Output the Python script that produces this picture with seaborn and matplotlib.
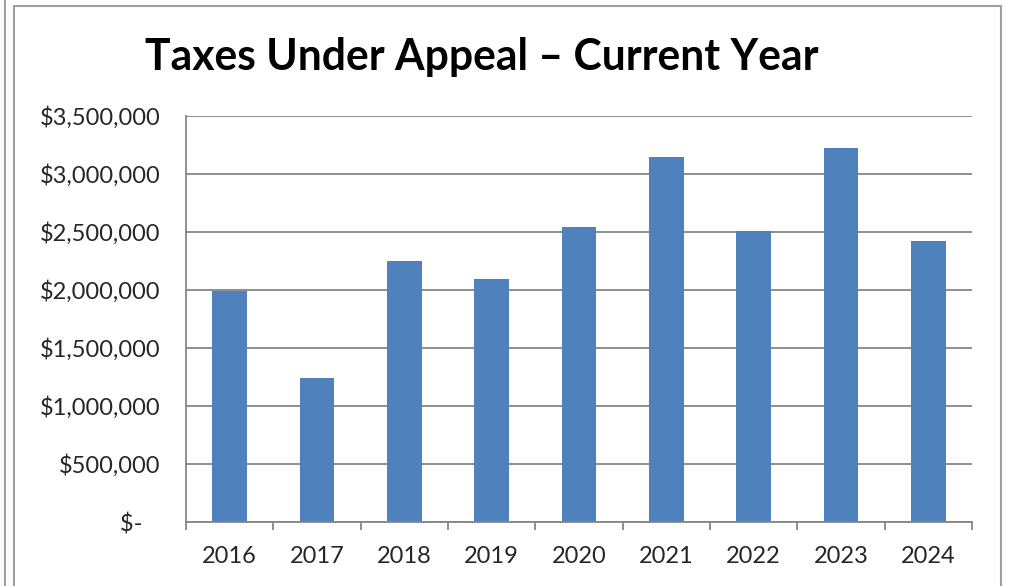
import matplotlib
matplotlib.use("Agg")
import matplotlib.pyplot as plt
import seaborn as sns
import pandas as pd
from matplotlib.lines import Line2D
from matplotlib.ticker import FixedLocator

years = ["2016", "2017", "2018", "2019", "2020", "2021", "2022", "2023", "2024"]
taxes = [1990000, 1241000, 2250000, 2095000, 2543000, 3147000, 2508000, 3224000, 2422000]
ytick_values = [0, 500000, 1000000, 1500000, 2000000, 2500000, 3000000, 3500000]
ytick_labels = ["$-   ", "$500,000", "$1,000,000", "$1,500,000", "$2,000,000",
                "$2,500,000", "$3,000,000", "$3,500,000"]
title = "Taxes Under Appeal \u2013 Current Year"

sns.set_theme(style="white")
plt.rcParams['font.family'] = ['Lato', 'DejaVu Sans']

W, H = 1009, 586
fig = plt.figure(figsize=(W / 100, H / 100), dpi=100)
ax = fig.add_axes([186 / W, 1 - 522 / H, (972 - 186) / W, (522 - 116) / H])

df = pd.DataFrame({"year": years, "tax": taxes})
sns.barplot(data=df, x="year", y="tax", color="#4F81BD", saturation=1,
            width=0.4, ax=ax, edgecolor="none")

grey = "#868686"
ax.set_xlim(-0.5, len(years) - 0.5)
ax.set_ylim(0, 3500000)
ax.set_yticks(ytick_values)
ax.set_yticklabels(ytick_labels, fontsize=17)
ax.yaxis.grid(True, color=grey, linewidth=1.3)
ax.set_axisbelow(True)
ax.set_xlabel("")
ax.set_ylabel("")
ax.tick_params(axis="x", which="major", length=0, labelsize=17, pad=17)
ax.tick_params(axis="y", which="major", length=5, width=1.3, color=grey, pad=13.5)
ax.xaxis.set_minor_locator(FixedLocator([i - 0.5 for i in range(len(years) + 1)]))
ax.tick_params(axis="x", which="minor", length=6, width=1.3, color=grey, bottom=True)
for s in ["top", "right"]:
    ax.spines[s].set_visible(False)
for s in ["left", "bottom"]:
    ax.spines[s].set_color(grey)
    ax.spines[s].set_linewidth(1.3)

fig.text(482 / W, 1 - 57 / H, title, ha="center", va="center",
         fontsize=30.7, fontweight="bold", color="black")

# outer frame lines
fc = "#A0A0A0"
fig.add_artist(Line2D([5 / W, 5 / W], [0, 1], transform=fig.transFigure, color=fc, lw=1.5))
fig.add_artist(Line2D([14 / W, 14 / W], [0, 1 - 6 / H], transform=fig.transFigure, color=fc, lw=1.5))
fig.add_artist(Line2D([14 / W, 1001 / W], [1 - 6 / H, 1 - 6 / H], transform=fig.transFigure, color=fc, lw=1.5))
fig.add_artist(Line2D([1001 / W, 1001 / W], [0, 1 - 6 / H], transform=fig.transFigure, color=fc, lw=1.5))

fig.savefig("out.png", dpi=100)
